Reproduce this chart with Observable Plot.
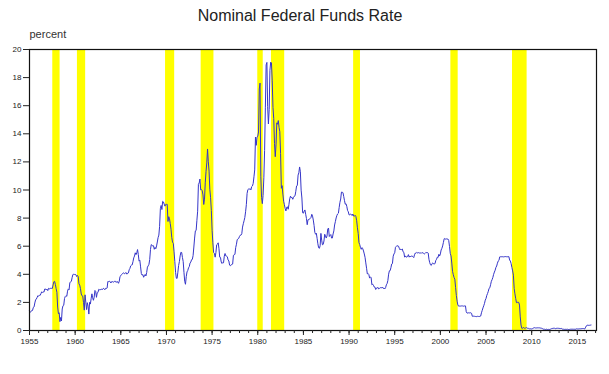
<!DOCTYPE html>
<html><head><meta charset="utf-8">
<script src="https://cdn.jsdelivr.net/npm/d3@7"></script>
<script src="https://cdn.jsdelivr.net/npm/@observablehq/plot@0.6"></script>
<style>body{margin:0;background:#fff}</style>
</head><body><div id="chart"></div><script>
const title = "Nominal Federal Funds Rate";
const yLabel = "percent";
const startYear = 1955; // monthly values from January 1955
const rates = [
1.39,1.29,1.35,1.43,1.43,1.64,1.68,1.96,2.18,2.24,2.35,2.48,
2.45,2.50,2.50,2.62,2.75,2.71,2.75,2.73,2.95,2.96,2.88,2.94,
2.84,3.00,2.96,3.00,3.00,3.00,2.99,3.24,3.47,3.50,3.28,2.98,
2.72,1.67,1.20,1.26,0.63,0.93,0.68,1.53,1.76,1.80,2.27,2.42,
2.48,2.43,2.80,2.96,2.90,3.39,3.47,3.50,3.76,3.98,4.00,3.99,
3.99,3.97,3.84,3.92,3.85,3.32,3.23,2.98,2.60,2.47,2.44,1.98,
1.45,2.54,2.02,1.49,1.98,1.73,1.17,2.00,1.88,2.26,2.61,2.33,
2.15,2.37,2.85,2.78,2.36,2.68,2.71,2.93,2.90,2.90,2.94,2.93,
2.92,3.00,2.98,2.90,3.00,2.99,3.02,3.49,3.48,3.50,3.48,3.38,
3.48,3.48,3.43,3.47,3.50,3.50,3.42,3.50,3.45,3.36,3.52,3.85,
3.90,3.98,4.04,4.09,4.10,4.04,4.09,4.12,4.01,4.08,4.10,4.32,
4.42,4.60,4.65,4.67,4.90,5.17,5.30,5.53,5.40,5.53,5.76,5.40,
4.94,5.00,4.53,4.05,3.94,3.98,3.79,3.90,3.99,3.88,4.13,4.51,
4.60,4.71,5.05,5.76,6.11,6.07,6.02,6.03,5.78,5.91,5.82,6.02,
6.30,6.61,6.79,7.41,8.67,8.90,8.61,9.19,9.15,9.00,8.85,8.97,
8.98,8.98,7.76,8.10,7.95,7.61,7.21,6.61,6.29,6.20,5.60,4.90,
4.14,3.72,3.71,4.15,4.63,4.91,5.31,5.57,5.55,5.20,4.91,4.14,
3.50,3.29,3.83,4.17,4.27,4.46,4.55,4.80,4.87,5.04,5.06,5.33,
5.94,6.58,7.09,7.12,7.84,8.49,10.40,10.50,10.78,10.01,10.03,9.95,
9.65,8.97,9.35,10.51,11.31,11.93,12.92,12.01,11.34,10.06,9.45,8.53,
7.13,6.24,5.54,5.49,5.22,5.55,6.10,6.14,6.24,5.82,5.22,5.20,
4.87,4.77,4.84,4.82,5.29,5.48,5.31,5.29,5.25,5.02,4.95,4.65,
4.61,4.68,4.69,4.73,5.35,5.39,5.42,5.90,6.14,6.47,6.51,6.56,
6.70,6.78,6.79,6.89,7.36,7.60,7.81,8.04,8.45,8.96,9.76,10.03,
10.07,10.06,10.09,10.01,10.24,10.29,10.47,10.94,11.43,13.77,13.18,13.78,
13.82,14.13,17.19,17.61,10.98,9.47,9.03,9.61,10.87,12.81,15.85,18.90,
19.08,15.93,14.70,15.72,18.52,19.10,19.04,17.82,15.87,15.08,13.31,12.37,
13.22,14.78,14.68,14.94,14.45,14.15,12.59,10.12,10.31,9.71,9.20,8.95,
8.68,8.51,8.77,8.80,8.63,8.98,9.37,9.56,9.45,9.48,9.34,9.47,
9.56,9.59,9.91,10.29,10.32,11.06,11.23,11.64,11.30,9.99,9.43,8.38,
8.35,8.50,8.58,8.27,7.97,7.53,7.88,7.90,7.92,7.99,8.05,8.27,
8.14,7.86,7.48,6.99,6.85,6.92,6.56,6.17,5.89,5.85,6.04,6.91,
6.43,6.10,6.13,6.37,6.85,6.73,6.58,6.73,7.22,7.29,6.69,6.77,
6.83,6.58,6.58,6.87,7.09,7.51,7.75,8.01,8.19,8.30,8.35,8.76,
9.12,9.36,9.85,9.84,9.81,9.53,9.24,8.99,9.02,8.84,8.55,8.45,
8.23,8.24,8.28,8.26,8.18,8.29,8.15,8.13,8.20,8.11,7.81,7.31,
6.91,6.25,6.12,5.91,5.78,5.90,5.82,5.66,5.45,5.21,4.81,4.43,
4.03,4.06,3.98,3.73,3.82,3.76,3.25,3.30,3.22,3.10,3.09,2.92,
3.02,3.03,3.07,2.96,3.00,3.04,3.06,3.03,3.09,2.99,3.02,2.96,
3.05,3.25,3.34,3.56,4.01,4.25,4.26,4.47,4.73,4.76,5.29,5.45,
5.53,5.92,5.98,6.05,6.01,6.00,5.85,5.74,5.80,5.76,5.80,5.60,
5.56,5.22,5.31,5.22,5.24,5.27,5.40,5.22,5.30,5.24,5.31,5.29,
5.25,5.19,5.39,5.51,5.50,5.56,5.52,5.54,5.54,5.50,5.52,5.50,
5.56,5.51,5.49,5.45,5.49,5.56,5.54,5.55,5.51,5.07,4.83,4.68,
4.63,4.76,4.81,4.74,4.74,4.76,4.99,5.07,5.22,5.20,5.42,5.30,
5.45,5.73,5.85,6.02,6.27,6.53,6.54,6.50,6.52,6.51,6.51,6.40,
5.98,5.49,5.31,4.80,4.21,3.97,3.77,3.65,3.07,2.49,2.09,1.82,
1.73,1.74,1.73,1.75,1.75,1.75,1.73,1.74,1.75,1.75,1.34,1.24,
1.24,1.26,1.25,1.26,1.26,1.22,1.01,1.03,1.01,1.01,1.00,0.98,
1.00,1.01,1.00,1.00,1.00,1.03,1.26,1.43,1.61,1.76,1.93,2.16,
2.28,2.50,2.63,2.79,3.00,3.04,3.26,3.50,3.62,3.78,4.00,4.16,
4.29,4.49,4.59,4.79,4.94,4.99,5.24,5.25,5.25,5.25,5.25,5.24,
5.25,5.26,5.26,5.25,5.25,5.25,5.26,5.02,4.94,4.76,4.49,4.24,
3.94,2.98,2.61,2.28,1.98,2.00,2.01,2.00,1.81,0.97,0.39,0.16,
0.15,0.22,0.18,0.15,0.18,0.21,0.16,0.16,0.15,0.12,0.12,0.12,
0.11,0.13,0.16,0.20,0.20,0.18,0.18,0.19,0.19,0.19,0.19,0.18,
0.17,0.16,0.14,0.10,0.09,0.09,0.07,0.10,0.08,0.07,0.08,0.07,
0.08,0.10,0.13,0.14,0.16,0.16,0.16,0.13,0.14,0.16,0.16,0.16,
0.14,0.15,0.14,0.15,0.11,0.09,0.09,0.08,0.08,0.09,0.08,0.09,
0.07,0.07,0.08,0.09,0.09,0.10,0.09,0.09,0.09,0.09,0.09,0.12,
0.11,0.11,0.11,0.12,0.12,0.13,0.13,0.14,0.14,0.12,0.12,0.24,
0.34,0.38,0.36,0.37,0.37,0.38,0.39
];
const recessionStart = [1957.55, 1960.25, 1969.9, 1973.8, 1980.0, 1981.5, 1990.5, 2001.15, 2007.9];
const recessionEnd   = [1958.35, 1961.15, 1970.9, 1975.2, 1980.6, 1982.95, 1991.25, 2001.95, 2009.5];
const yTicks = [0, 2, 4, 6, 8, 10, 12, 14, 16, 18, 20];
const xTicks = [1955, 1960, 1965, 1970, 1975, 1980, 1985, 1990, 1995, 2000, 2005, 2010, 2015];
const minorTicks = d3.range(1955, 2018);

const data = rates.map((v, i) => ({t: startYear + i / 12, v}));
const recessions = recessionStart.map((s, i) => ({s, e: recessionEnd[i]}));

const plot = Plot.plot({
  width: 609, height: 374,
  marginLeft: 29, marginRight: 13, marginTop: 49, marginBottom: 44,
  style: {fontFamily: "'Liberation Sans', Arial, sans-serif", fontSize: "8px", color: "#222", background: "white"},
  x: {domain: [1955, 2017.1]},
  y: {domain: [0, 20]},
  marks: [
    Plot.rect(recessions, {x1: "s", x2: "e", fill: "#ffff00"}),
    Plot.line(data, {x: "t", y: "v", stroke: "#3535c8", strokeWidth: 1}),
    Plot.frame({stroke: "#111", strokeWidth: 1.2}),
    Plot.axisY({ticks: yTicks, tickSize: 6, tickPadding: 2, label: null, fontSize: 8, tickFormat: d => String(d)}),
    Plot.axisX({ticks: minorTicks, tickSize: 3, tickFormat: () => "", label: null}),
    Plot.axisX({ticks: xTicks, tickSize: 5, tickPadding: 3, label: null, fontSize: 8, tickFormat: d => String(d)}),
    Plot.text([title], {frameAnchor: "top", dx: -13, dy: -34, lineAnchor: "middle", fontSize: 16, fill: "#222"}),
    Plot.text([yLabel], {frameAnchor: "top-left", dy: -15, textAnchor: "start", lineAnchor: "middle", fontSize: 11, fill: "#333"})
  ]
});
document.getElementById("chart").append(plot);
</script></body></html>
